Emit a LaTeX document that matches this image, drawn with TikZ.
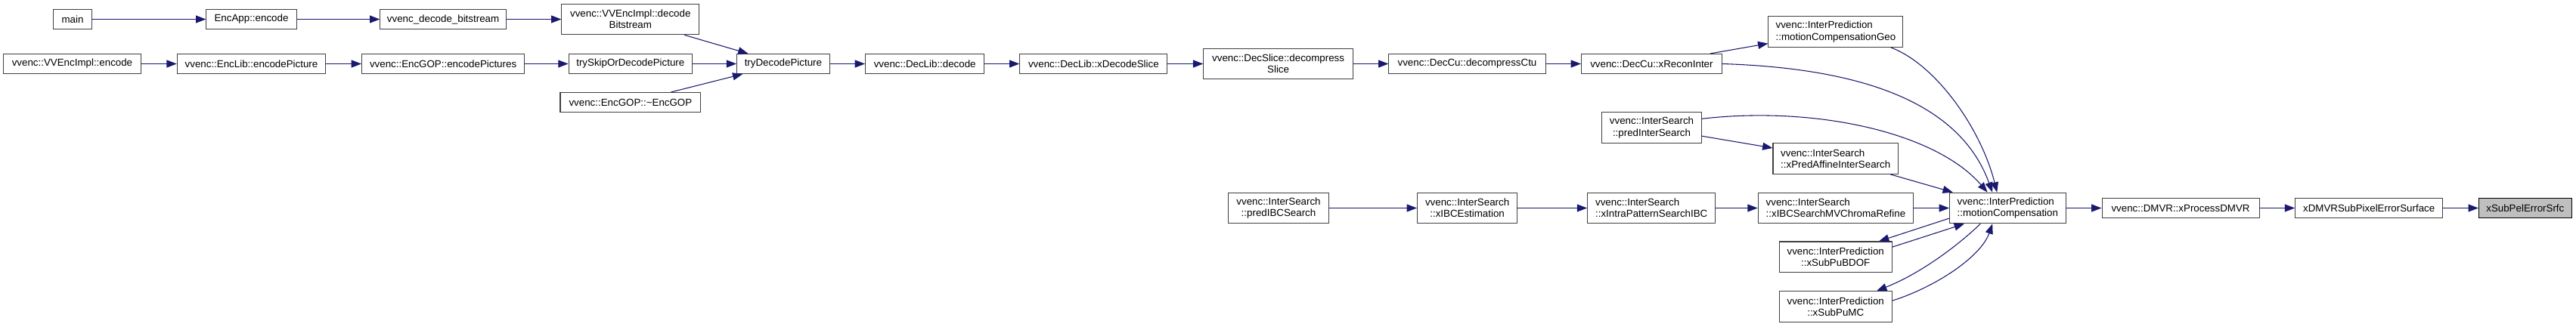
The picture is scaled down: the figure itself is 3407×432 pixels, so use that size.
\documentclass[tikz,border=0pt]{standalone}
\usepackage{fontspec}
\setmainfont{Liberation Sans}
\usetikzlibrary{arrows.meta}
\definecolor{edgeblue}{HTML}{191970}
\definecolor{boxgray}{HTML}{404040}
\definecolor{focusgray}{HTML}{BFBFBF}
\begin{document}
\begin{tikzpicture}%
	[x={(0.75pt,0pt)},
	y={(0pt,-0.75pt)},
	fn/.style={draw=boxgray, line width=0.8pt, fill=white, inner sep=0pt, minimum height=19.5pt, font=\fontsize{10}{11.5}\selectfont},
	fntwo/.style={fn, minimum height=30.5pt},
	focus/.style={fn, draw=black, fill=focusgray},
	call/.style={color=edgeblue, line width=0.8pt, -{Triangle[length=10pt,width=7.5pt]}}]
%
%
%% Coordinates are pixels of the graph, y running downwards
\useasboundingbox (0,0) rectangle (3407,432);
%%
%%
%% Drawing the callers
%%
\node[fn, minimum width=38pt] (main) at (96,25.5) {main};
\node[fn, minimum width=89.4pt] (encApp) at (332.5,25.5) {EncApp::encode};
\node[fn, minimum width=124.8pt] (decBitstream) at (586.1,25.5) {vvenc\_decode\_bitstream};
\node[fntwo, minimum width=136.3pt, align=center] (implDecode) at (833.8,25.5) {vvenc::VVEncImpl::decode\\Bitstream};
\node[fn, minimum width=136.4pt] (implEncode) at (95.5,84.5) {vvenc::VVEncImpl::encode};
\node[fn, minimum width=147.3pt] (encPicture) at (332.5,84.5) {vvenc::EncLib::encodePicture};
\node[fn, minimum width=161.3pt] (encPictures) at (586.1,84.5) {vvenc::EncGOP::encodePictures};
\node[fn, minimum width=122.5pt] (trySkip) at (833.8,84.5) {trySkipOrDecodePicture};
\node[fn, minimum width=139.4pt] (gopDtor) at (833.9,135.5) {vvenc::EncGOP::\textasciitilde EncGOP};
\node[fn, minimum width=91.9pt] (tryDecode) at (1035.9,84.5) {tryDecodePicture};
\node[fn, minimum width=117.9pt] (libDecode) at (1223.2,84.5) {vvenc::DecLib::decode};
\node[fn, minimum width=146.3pt] (decSlice) at (1446.4,84.5) {vvenc::DecLib::xDecodeSlice};
\node[fntwo, minimum width=148.2pt, align=center] (decompSlice) at (1690.6,84.5) {vvenc::DecSlice::decompress\\Slice};
\node[fn, minimum width=155.4pt] (decompCtu) at (1940.5,84.5) {vvenc::DecCu::decompressCtu};
\node[fn, minimum width=139.4pt] (reconInter) at (2184.4,84.5) {vvenc::DecCu::xReconInter};
\node[fntwo, minimum width=99.1pt, align=center] (predInter) at (2184.5,169) {vvenc::InterSearch\\::predInterSearch};
\node[fntwo, minimum width=133.5pt, align=left] (mcGeo) at (2427.9,42) {vvenc::InterPrediction\\::motionCompensationGeo};
\node[fntwo, minimum width=124.1pt, align=left] (predAffine) at (2427.7,210) {vvenc::InterSearch\\::xPredAffineInterSearch};
\node[fntwo, minimum width=99.8pt, align=center] (predIbc) at (1691,275.5) {vvenc::InterSearch\\::predIBCSearch};
\node[fntwo, minimum width=99.2pt, align=center] (ibcEst) at (1940.6,275.5) {vvenc::InterSearch\\::xIBCEstimation};
\node[fntwo, minimum width=126.9pt, align=left] (intraPattern) at (2184.2,275.5) {vvenc::InterSearch\\::xIntraPatternSearchIBC};
\node[fntwo, minimum width=154.1pt, align=left] (chromaRefine) at (2427.9,275.5) {vvenc::InterSearch\\::xIBCSearchMVChromaRefine};
\node[fntwo, minimum width=112pt, align=center] (subPuBdof) at (2427.7,340.3) {vvenc::InterPrediction\\::xSubPuBDOF};
\node[fntwo, minimum width=112pt, align=center] (subPuMc) at (2427.7,406) {vvenc::InterPrediction\\::xSubPuMC};
\node[fntwo, minimum width=115.1pt, align=left] (mc) at (2655.3,275.5) {vvenc::InterPrediction\\::motionCompensation};
\node[fn, minimum width=156pt] (dmvr) at (2884,275.5) {vvenc::DMVR::xProcessDMVR};
\node[fn, minimum width=146.4pt] (errSurface) at (3133.2,275.5) {xDMVRSubPixelErrorSurface};
%%
%%
%% Drawing the function itself
%%
\node[focus, minimum width=92.1pt] (errSrfc) at (3339.8,275.5) {xSubPelErrorSrfc};
%%
%%
%% Drawing the straight calls
%%
\draw[call] (main) -- (encApp);
\draw[call] (encApp) -- (decBitstream);
\draw[call] (decBitstream) -- (implDecode);
\draw[call] (implDecode) -- (tryDecode);
\draw[call] (implEncode) -- (encPicture);
\draw[call] (encPicture) -- (encPictures);
\draw[call] (encPictures) -- (trySkip);
\draw[call] (trySkip) -- (tryDecode);
\draw[call] (gopDtor) -- (tryDecode);
\draw[call] (tryDecode) -- (libDecode);
\draw[call] (libDecode) -- (decSlice);
\draw[call] (decSlice) -- (decompSlice);
\draw[call] (decompSlice) -- (decompCtu);
\draw[call] (decompCtu) -- (reconInter);
\draw[call] (reconInter) -- (mcGeo);
\draw[call] (predInter) -- (predAffine);
\draw[call] (predAffine) -- (mc);
\draw[call] (predIbc) -- (ibcEst);
\draw[call] (ibcEst) -- (intraPattern);
\draw[call] (intraPattern) -- (chromaRefine);
\draw[call] (chromaRefine) -- (mc);
\draw[call] (mc.190) -- (subPuBdof.20);
\draw[call] (subPuBdof.10) -- (mc.200);
\draw[call] (mc) -- (dmvr);
\draw[call] (dmvr) -- (errSurface);
\draw[call] (errSurface) -- (errSrfc);
%%
%%
%% Drawing the curved calls
%%
\draw[call] (reconInter.east) .. controls (2450,90) and (2590,130) .. (mc.134);
\draw[call] (mcGeo.-16) .. controls (2560,85) and (2620,170) .. (mc.124);
\draw[call] (predInter.10) .. controls (2400,140) and (2560,175) .. (mc.142);
\draw[call] (mc.210) .. controls (2595,320) and (2545,360) .. (subPuMc.21);
\draw[call] (subPuMc.6) .. controls (2560,380) and (2620,340) .. (mc.226);
%%
%%
\end{tikzpicture}
\end{document}
